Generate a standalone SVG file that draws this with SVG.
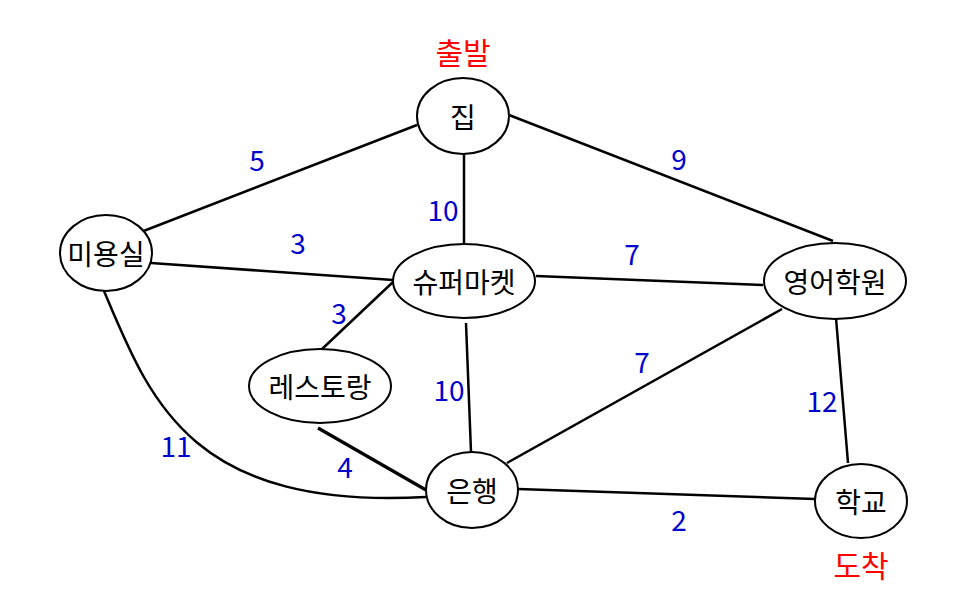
<svg xmlns="http://www.w3.org/2000/svg" width="977" height="611" viewBox="0 0 977 611">
<style>
.node ellipse{fill:#fff;stroke:#000;stroke-width:2}
.node text{font-family:"Noto Sans CJK KR","Noto Sans",sans-serif;font-size:28px;fill:#000;text-anchor:middle;dominant-baseline:central}
.edges path,.edges line{stroke:#000;stroke-width:2.5;fill:none}
.w{font-family:"Noto Sans CJK KR","Noto Sans",sans-serif;font-size:28px;fill:#0000cd;text-anchor:middle;dominant-baseline:central}
.tag{font-family:"Noto Sans CJK KR","Noto Sans",sans-serif;font-size:30px;fill:#ff0000;text-anchor:middle;dominant-baseline:central}
</style>
<rect width="977" height="611" fill="#fff"/>
<g class="edges">
<line x1="417" y1="125" x2="141" y2="232"/>
<line x1="464" y1="154" x2="464" y2="243"/>
<line x1="509" y1="115" x2="833" y2="241"/>
<line x1="151" y1="263" x2="393" y2="280"/>
<path d="M104,291 C150,400 190,510 426,497"/>
<line x1="393" y1="282" x2="321" y2="350"/>
<line x1="466" y1="323" x2="471" y2="452"/>
<line x1="536" y1="276" x2="763" y2="285"/>
<line x1="318" y1="428" x2="426" y2="490" style="stroke-width:3.2"/>
<line x1="507" y1="463" x2="782" y2="309"/>
<line x1="518" y1="489" x2="815" y2="499"/>
<line x1="836" y1="318" x2="848" y2="463"/>
</g>
<g class="labels">
<text class="w" x="257" y="159">5</text>
<text class="w" x="443" y="209">10</text>
<text class="w" x="679" y="158">9</text>
<text class="w" x="298" y="242">3</text>
<text class="w" x="632" y="253">7</text>
<text class="w" x="339" y="312">3</text>
<text class="w" x="449" y="389">10</text>
<text class="w" x="642" y="361">7</text>
<text class="w" x="822" y="400">12</text>
<text class="w" x="176" y="445">11</text>
<text class="w" x="345" y="466">4</text>
<text class="w" x="679" y="519">2</text>
<text class="tag" x="463" y="51">출발</text>
<text class="tag" x="861" y="564">도착</text>
</g>
<g id="home" class="node"><ellipse cx="463" cy="116" rx="46" ry="38"/><text x="463" y="116">집</text></g>
<g id="salon" class="node"><ellipse cx="106" cy="253" rx="46" ry="38"/><text x="106" y="253">미용실</text></g>
<g id="market" class="node"><ellipse cx="464" cy="281" rx="71" ry="37"/><text x="464" y="281">슈퍼마켓</text></g>
<g id="restaurant" class="node"><ellipse cx="320" cy="386" rx="71" ry="37"/><text x="320" y="386">레스토랑</text></g>
<g id="bank" class="node"><ellipse cx="472" cy="490" rx="46" ry="38"/><text x="472" y="490">은행</text></g>
<g id="academy" class="node"><ellipse cx="835" cy="281" rx="71" ry="38"/><text x="835" y="281">영어학원</text></g>
<g id="school" class="node"><ellipse cx="861" cy="501" rx="46" ry="37"/><text x="861" y="501">학교</text></g>
</svg>
